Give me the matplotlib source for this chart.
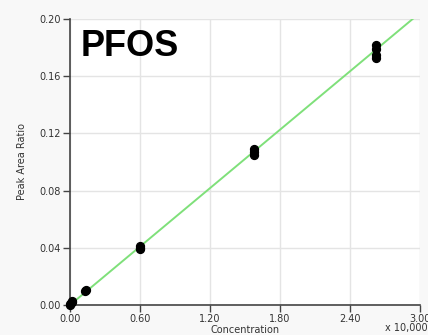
import matplotlib
matplotlib.use("Agg")
import matplotlib.pyplot as plt
import numpy as np

# Data (concentration in units of x 10,000)
conc = [0.0, 0.0, 0.005, 0.02, 0.02, 0.13, 0.135, 0.60, 0.60, 0.60,
        1.58, 1.58, 1.58, 2.62, 2.62, 2.62, 2.62]
ratio = [0.000, 0.001, 0.0015, 0.002, 0.003, 0.0095, 0.0105, 0.039, 0.040, 0.041,
         0.105, 0.107, 0.109, 0.173, 0.175, 0.179, 0.182]
fit_slope = 0.0681
fit_intercept = 0.0
xticks = [0.0, 0.6, 1.2, 1.8, 2.4, 3.0]
xtick_labels = ["0.00", "0.60", "1.20", "1.80", "2.40", "3.00"]
yticks = [0.0, 0.04, 0.08, 0.12, 0.16, 0.20]
ytick_labels = ["0.00", "0.04", "0.08", "0.12", "0.16", "0.20"]

fig = plt.figure(figsize=(4.28, 3.35), dpi=100)
fig.patch.set_facecolor("#f8f8f8")
ax = fig.add_axes([70/428, 30/335, 350/428, 286/335])
ax.set_facecolor("white")

ax.set_xlim(0, 3.0)
ax.set_ylim(0, 0.20)

xl = np.array([0, 3.0])
ax.plot(xl, fit_slope * xl + fit_intercept, color="#7fe07a", lw=1.4, zorder=2)
ax.scatter(conc, ratio, s=32, color="black", zorder=3, clip_on=False, marker="o")

ax.set_xticks(xticks)
ax.set_xticklabels(xtick_labels)
ax.set_yticks(yticks)
ax.set_yticklabels(ytick_labels)
ax.grid(True, color="#e4e4e4", lw=1.0, zorder=0)
ax.set_axisbelow(True)

for s in ["top", "right"]:
    ax.spines[s].set_visible(False)
for s in ["left", "bottom"]:
    ax.spines[s].set_color("#444444")
    ax.spines[s].set_linewidth(1.2)
ax.tick_params(direction="out", length=5, width=1.0, color="#444444",
               labelsize=7, labelcolor="#333333", pad=1.5)

ax.set_ylabel("Peak Area Ratio", fontsize=7, color="#333333", labelpad=9)
ax.set_xlabel("Concentration", fontsize=7, color="#333333", labelpad=1)
fig.text(1.0, 0.005, "x 10,000", ha="right", va="bottom", fontsize=7, color="#333333")

ax.text(0.03, 0.965, "PFOS", transform=ax.transAxes, ha="left", va="top",
        fontsize=26, fontweight="bold", family="Liberation Sans", color="black")

fig.savefig("out.png", dpi=100, facecolor=fig.get_facecolor())
